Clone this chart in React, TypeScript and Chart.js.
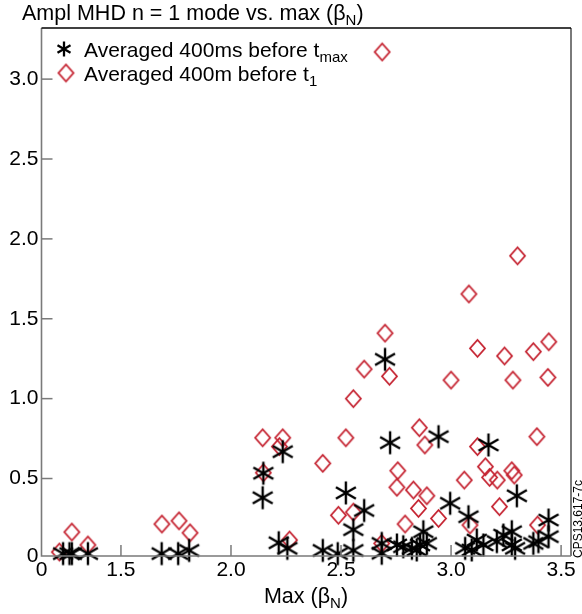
import { useEffect, useRef } from "react";
import { Chart, registerables } from "chart.js";
Chart.register(...registerables);

// ---- data ----
const tmaxX = [1.237, 1.266, 1.277, 1.35, 1.685, 1.76, 1.81,
  2.144, 2.147, 2.235, 2.217, 2.256, 2.417, 2.485, 2.522, 2.556, 2.556, 2.605,
  2.685, 2.685, 2.70, 2.723, 2.754, 2.783, 2.822, 2.844, 2.859, 2.874, 2.89,
  2.943, 2.996, 3.079, 3.064, 3.094, 3.117, 3.147, 3.17,
  3.208, 3.238, 3.276, 3.276, 3.291, 3.299, 3.374, 3.397, 3.443, 3.443];
const tmaxY = [0.03, 0.03, 0.03, 0.03, 0.03, 0.03, 0.05,
  0.38, 0.533, 0.668, 0.098, 0.063, 0.05, 0.03, 0.41, 0.05, 0.18, 0.30,
  0.094, 0.032, 1.246, 0.724, 0.084, 0.073, 0.063, 0.053, 0.084, 0.167, 0.094,
  0.762, 0.345, 0.261, 0.063, 0.053, 0.115, 0.084, 0.71,
  0.105, 0.146, 0.167, 0.084, 0.063, 0.392, 0.094, 0.105, 0.24, 0.136];

const t1X = [1.22, 1.277, 1.35, 1.686, 1.764, 1.814,
  2.144, 2.235, 2.22, 2.147, 2.266, 2.417, 2.522, 2.556, 2.605, 2.70, 2.72,
  2.488, 2.556, 2.685, 2.687,
  3.302, 3.081, 3.12, 3.243, 3.374, 3.444, 3.0, 3.281, 3.44,
  2.856, 2.881, 3.39, 3.12, 2.758, 2.754, 2.829, 2.89, 2.852, 2.791, 2.943,
  3.06, 3.156, 3.175, 3.21, 3.276, 3.287, 3.22, 3.393, 3.086];
const t1Y = [0.04, 0.165, 0.084, 0.215, 0.235, 0.16,
  0.755, 0.755, 0.70, 0.536, 0.115, 0.595, 0.755, 1.00, 1.185, 1.41, 1.14,
  0.27, 0.29, 0.094, 3.17,
  1.894, 1.655, 1.315, 1.267, 1.294, 1.356, 1.116, 1.116, 1.133,
  0.818, 0.71, 0.762, 0.70, 0.549, 0.445, 0.428, 0.392, 0.313, 0.215, 0.25,
  0.49, 0.574, 0.507, 0.49, 0.549, 0.522, 0.324, 0.209, 0.209];

const X_MIN = 1.139;
const X_MAX = 3.545;
const Y_MIN = 0.015;
const Y_MAX = 3.32;
const xTickValues = [1.5, 2.0, 2.5, 3.0, 3.5];
const yTickValues = [0.5, 1.0, 1.5, 2.0, 2.5, 3.0];

const FONT = "'Liberation Sans', Arial, Helvetica, sans-serif";
const RED = "#c4202e";
const AXIS_GRAY = "#7a7a7a";

function makeAsterisk(r: number, lw: number, color: string) {
  const s = Math.ceil(2 * r + lw + 2);
  const c = document.createElement("canvas");
  c.width = s; c.height = s;
  const ctx = c.getContext("2d")!;
  ctx.strokeStyle = color; ctx.lineWidth = lw; ctx.lineCap = "butt";
  const cx = s / 2, cy = s / 2;
  for (const deg of [90, 30, 150]) {
    const a = (deg * Math.PI) / 180;
    ctx.beginPath();
    ctx.moveTo(cx - r * Math.cos(a), cy - r * Math.sin(a));
    ctx.lineTo(cx + r * Math.cos(a), cy + r * Math.sin(a));
    ctx.stroke();
  }
  return c;
}

function makeDiamond(w: number, h: number, lw: number, color: string) {
  const sw = Math.ceil(w + lw + 2), sh = Math.ceil(h + lw + 2);
  const c = document.createElement("canvas");
  c.width = sw; c.height = sh;
  const ctx = c.getContext("2d")!;
  ctx.strokeStyle = color; ctx.lineWidth = lw;
  const cx = sw / 2, cy = sh / 2;
  ctx.beginPath();
  ctx.moveTo(cx, cy - h / 2);
  ctx.lineTo(cx + w / 2, cy);
  ctx.lineTo(cx, cy + h / 2);
  ctx.lineTo(cx - w / 2, cy);
  ctx.closePath();
  ctx.stroke();
  return c;
}

type Part = { t: string; sub?: boolean };
function drawRich(ctx: CanvasRenderingContext2D, parts: Part[], x: number, y: number, size: number, align: "left" | "center" = "left") {
  const subSize = Math.round(size * 0.7);
  let total = 0;
  for (const p of parts) {
    ctx.font = `${p.sub ? subSize : size}px ${FONT}`;
    total += ctx.measureText(p.t).width;
  }
  let cx = align === "center" ? x - total / 2 : x;
  ctx.textAlign = "left";
  ctx.textBaseline = "alphabetic";
  for (const p of parts) {
    ctx.font = `${p.sub ? subSize : size}px ${FONT}`;
    ctx.fillText(p.t, cx, p.sub ? y + size * 0.25 : y);
    cx += ctx.measureText(p.t).width;
  }
}

export default function App() {
  const ref = useRef<HTMLCanvasElement | null>(null);
  useEffect(() => {
    if (!ref.current) return;
    const star = makeAsterisk(11.5, 2.4, "#000");
    const starLegend = makeAsterisk(7.5, 2.3, "#000");
    const dia = makeDiamond(15, 17, 1.8, RED);

    const overlay = {
      id: "overlay",
      afterDraw(chart: any) {
        const ctx = chart.ctx as CanvasRenderingContext2D;
        const { left, right, top, bottom } = chart.chartArea;
        const xs = chart.scales.x, ys = chart.scales.y;
        ctx.save();
        // frame
        ctx.strokeStyle = AXIS_GRAY;
        ctx.lineWidth = 1.6;
        ctx.beginPath();
        ctx.moveTo(left, top); ctx.lineTo(left, bottom); ctx.lineTo(right, bottom);
        ctx.stroke();
        ctx.lineWidth = 2;
        ctx.beginPath();
        ctx.moveTo(right, top); ctx.lineTo(right, bottom);
        ctx.stroke();
        ctx.strokeStyle = "#000";
        ctx.lineWidth = 1.5;
        ctx.beginPath();
        ctx.moveTo(left, top); ctx.lineTo(right, top);
        ctx.stroke();
        // inner ticks
        ctx.strokeStyle = AXIS_GRAY;
        ctx.lineWidth = 1.5;
        for (const v of xTickValues) {
          const px = xs.getPixelForValue(v);
          ctx.beginPath(); ctx.moveTo(px, bottom); ctx.lineTo(px, bottom - 11); ctx.stroke();
        }
        for (const v of yTickValues) {
          const py = ys.getPixelForValue(v);
          ctx.beginPath(); ctx.moveTo(left, py); ctx.lineTo(left + 11, py); ctx.stroke();
        }
        // title
        ctx.fillStyle = "#000";
        drawRich(ctx, [{ t: "Ampl MHD n = 1 mode vs. max (\u03b2" }, { t: "N", sub: true }, { t: ")" }], 22, 20, 21.5);
        // legend
        ctx.drawImage(starLegend, 64 - starLegend.width / 2, 49 - starLegend.height / 2);
        drawRich(ctx, [{ t: "Averaged 400ms before t" }, { t: "max", sub: true }], 84, 57, 21);
        ctx.drawImage(dia, 66 - dia.width / 2, 73 - dia.height / 2);
        drawRich(ctx, [{ t: "Averaged 400m before t" }, { t: "1", sub: true }], 84, 81, 21);
        // x title
        drawRich(ctx, [{ t: "Max (\u03b2" }, { t: "N", sub: true }, { t: ")" }], 306, 603, 21.5, "center");
        // side tag
        ctx.translate(579, 519);
        ctx.rotate(-Math.PI / 2);
        ctx.font = `12px ${FONT}`;
        ctx.textAlign = "center";
        ctx.textBaseline = "middle";
        ctx.fillText("CPS13.617-7c", 0, 0);
        ctx.restore();
      },
    };

    const chart = new Chart(ref.current, {
      type: "scatter",
      data: {
        datasets: [
          {
            label: "Averaged 400ms before tmax",
            data: tmaxX.map((x, i) => ({ x, y: tmaxY[i] })),
            pointStyle: star as any,
            clip: false as any,
          },
          {
            label: "Averaged 400m before t1",
            data: t1X.map((x, i) => ({ x, y: t1Y[i] })),
            pointStyle: dia as any,
            clip: false as any,
          },
        ],
      },
      options: {
        animation: false,
        responsive: true,
        maintainAspectRatio: false,
        layout: { padding: { top: 28, right: 11, left: 0, bottom: 0 } },
        plugins: { legend: { display: false }, tooltip: { enabled: false }, title: { display: false } },
        scales: {
          x: {
            type: "linear",
            min: X_MIN,
            max: X_MAX,
            afterBuildTicks: (s: any) => {
              s.ticks = [X_MIN, ...xTickValues].map((v) => ({ value: v }));
            },
            afterFit: (s: any) => { s.height = 58; },
            ticks: {
              autoSkip: false,
              maxRotation: 0,
              minRotation: 0,
              padding: 2,
              color: "#000",
              font: { family: FONT, size: 21 },
              callback: (v: any) => (Math.abs(v - X_MIN) < 1e-6 ? "0" : Number(v).toFixed(1)),
            },
            grid: { display: false, drawTicks: false },
            border: { display: false },
          },
          y: {
            type: "linear",
            min: Y_MIN,
            max: Y_MAX,
            afterBuildTicks: (s: any) => {
              s.ticks = [Y_MIN, ...yTickValues].map((v) => ({ value: v }));
            },
            afterFit: (s: any) => { s.width = 41.5; },
            ticks: {
              autoSkip: false,
              padding: 3,
              color: "#000",
              font: { family: FONT, size: 21 },
              callback: (v: any) => (Math.abs(v - Y_MIN) < 1e-6 ? "0" : Number(v).toFixed(1)),
            },
            grid: { display: false, drawTicks: false },
            border: { display: false },
          },
        },
      },
      plugins: [overlay],
    });
    return () => chart.destroy();
  }, []);

  return (
    <div style={{ position: "absolute", left: 0, top: 0, width: 582, height: 614 }}>
      <canvas ref={ref} />
    </div>
  );
}
